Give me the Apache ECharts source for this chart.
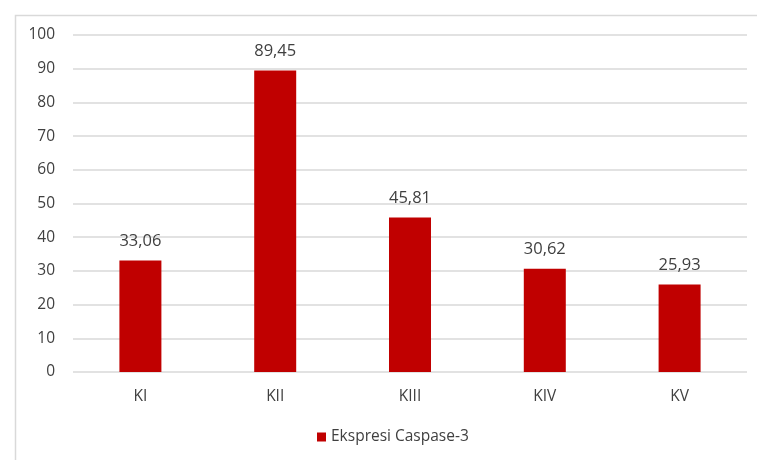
<!DOCTYPE html>
<html><head><meta charset="utf-8">
<script src="https://cdn.jsdelivr.net/npm/echarts@6/dist/echarts.min.js"></script>
<style>html,body{margin:0;padding:0;background:#fff}#c{width:757px;height:460px}</style>
</head><body><div id="c"></div>
<script>
const categories = ['KI', 'KII', 'KIII', 'KIV', 'KV'];
const values = [33.06, 89.45, 45.81, 30.62, 25.93];
const seriesName = 'Ekspresi Caspase-3';
const yTicks = {min: 0, max: 100, interval: 10};

const chart = echarts.init(document.getElementById('c'));
const font = 'Open Sans, Noto Sans, sans-serif';
chart.setOption({
  animation: false,
  graphic: [{type: 'rect', left: 13, top: 13, shape: {width: 800, height: 500}, style: {fill: 'none', stroke: '#d9d9d9', lineWidth: 1.5}, z: -1}],
  grid: {left: 73, right: 10, top: 35, bottom: 88, containLabel: false},
  legend: {top: 429, left: 317, padding: 0, itemWidth: 9, itemHeight: 9, itemGap: 6, icon: 'rect',
    textStyle: {fontFamily: font, fontSize: 15.5, color: '#404040', padding: [0, 0, 0, 0]}, data: [seriesName]},
  xAxis: {type: 'category', data: categories,
    axisLine: {show: false}, axisTick: {show: false},
    axisLabel: {fontFamily: font, fontSize: 15.5, color: '#404040', margin: 17}},
  yAxis: {type: 'value', min: yTicks.min, max: yTicks.max, interval: yTicks.interval,
    axisLine: {show: false}, axisTick: {show: false},
    splitLine: {lineStyle: {color: '#d9d9d9', width: 1.5}},
    axisLabel: {fontFamily: font, fontSize: 15.5, color: '#404040', margin: 18}},
  series: [{name: seriesName, type: 'bar', data: values, barWidth: 42,
    itemStyle: {color: '#C00000'},
    label: {show: true, position: 'top', distance: 11, fontFamily: font, fontSize: 16.5, color: '#404040',
      formatter: p => p.value.toFixed(2).replace('.', ',')}}]
});
</script></body></html>
